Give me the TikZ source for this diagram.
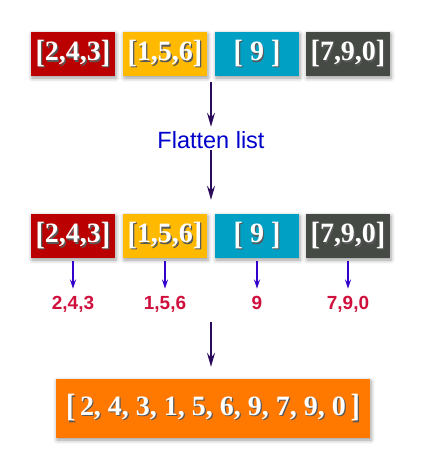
\documentclass[tikz,border=0pt]{standalone}
\usepackage{fontspec}
\setmainfont{Liberation Serif}
\setsansfont{Liberation Sans}
\usepackage{tikz}
\usetikzlibrary{arrows.meta,shadows.blur}

\definecolor{boxred}{HTML}{BA0000}
\definecolor{boxyellow}{HTML}{FFBA00}
\definecolor{boxcyan}{HTML}{00A0C4}
\definecolor{boxgray}{HTML}{454A44}
\definecolor{boxorange}{HTML}{FF7800}
\definecolor{arrowpurple}{HTML}{2A0A5A}
\definecolor{arrowblue}{HTML}{3300CC}
\definecolor{labelred}{HTML}{D0103C}
\definecolor{flatblue}{HTML}{0000CC}

\newcommand{\shtext}[1]{\makebox[0pt][l]{\hspace{1.2pt}\raisebox{-1.2pt}{\color{black!65}#1}}#1}
\newcommand{\tallbr}[1]{\raisebox{-1.5pt}{\scalebox{1}[1.15]{#1}}}

\tikzset{
    listbox/.style={minimum width=84pt, minimum height=44pt, inner sep=0pt,
        text=white, font=\bfseries\fontsize{28}{28}\selectfont,
        blur shadow={shadow xshift=1pt, shadow yshift=-2pt, shadow blur radius=4pt}},
    bigarrow/.style={draw=arrowpurple, line width=2pt,
        -{Stealth[length=14pt,width=8pt,inset=5pt]}},
    smallarrow/.style={draw=arrowblue, line width=1.3pt,
        -{Stealth[length=9pt,width=6pt,inset=3pt]}},
    itemlabel/.style={text=labelred, font=\sffamily\bfseries\fontsize{19}{19}\selectfont,
        inner sep=0pt, anchor=base}
}

\begin{document}
\begin{tikzpicture}[x=1pt,y=-1pt]
        \useasboundingbox (0,0) rectangle (421,459);
        % the two rows of sub lists
        \foreach \i/\x/\col/\txt/\lab in {1/73/boxred/{2,4,3}/{2,4,3},
                2/165/boxyellow/{1,5,6}/{1,5,6},
                3/257/boxcyan/{\ 9\ }/{9},
                4/348/boxgray/{7,9,0}/{7,9,0}} {
            \node[listbox, fill=\col] (top\i) at (\x,54) {\shtext{\tallbr{[}\txt\tallbr{]}}};
            \node[listbox, fill=\col] (mid\i) at (\x,236) {\shtext{\tallbr{[}\txt\tallbr{]}}};
            \node[itemlabel] (lab\i) at (\x,309) {\lab};
            \draw[smallarrow, shorten <=3pt, shorten >=7pt] (mid\i.south) -- (lab\i.north);
        }
        \node[anchor=base, inner sep=0pt, text=flatblue,
            font=\sffamily\fontsize{23.5}{23.5}\selectfont] (flat) at (211,148) {Flatten list};
        \node[listbox, fill=boxorange, minimum width=314pt, minimum height=59pt,
            font=\bfseries\fontsize{28}{28}\selectfont] (all) at (213,408.5)
            {\shtext{\tallbr{[}\,2, 4, 3, 1, 5, 6, 9, 7, 9, 0\,\tallbr{]}}};
        % flow arrows
        \coordinate (gap1) at (211,82);
        \coordinate (gap2) at (211,322);
        \draw[bigarrow, shorten >=4pt] (gap1) -- (flat.north);
        \draw[bigarrow, shorten <=2pt, shorten >=14pt] (flat.south) -- (flat.south |- mid3.north);
        \draw[bigarrow, shorten >=12pt] (gap2) -- (gap2 |- all.north);
\end{tikzpicture}
\end{document}
